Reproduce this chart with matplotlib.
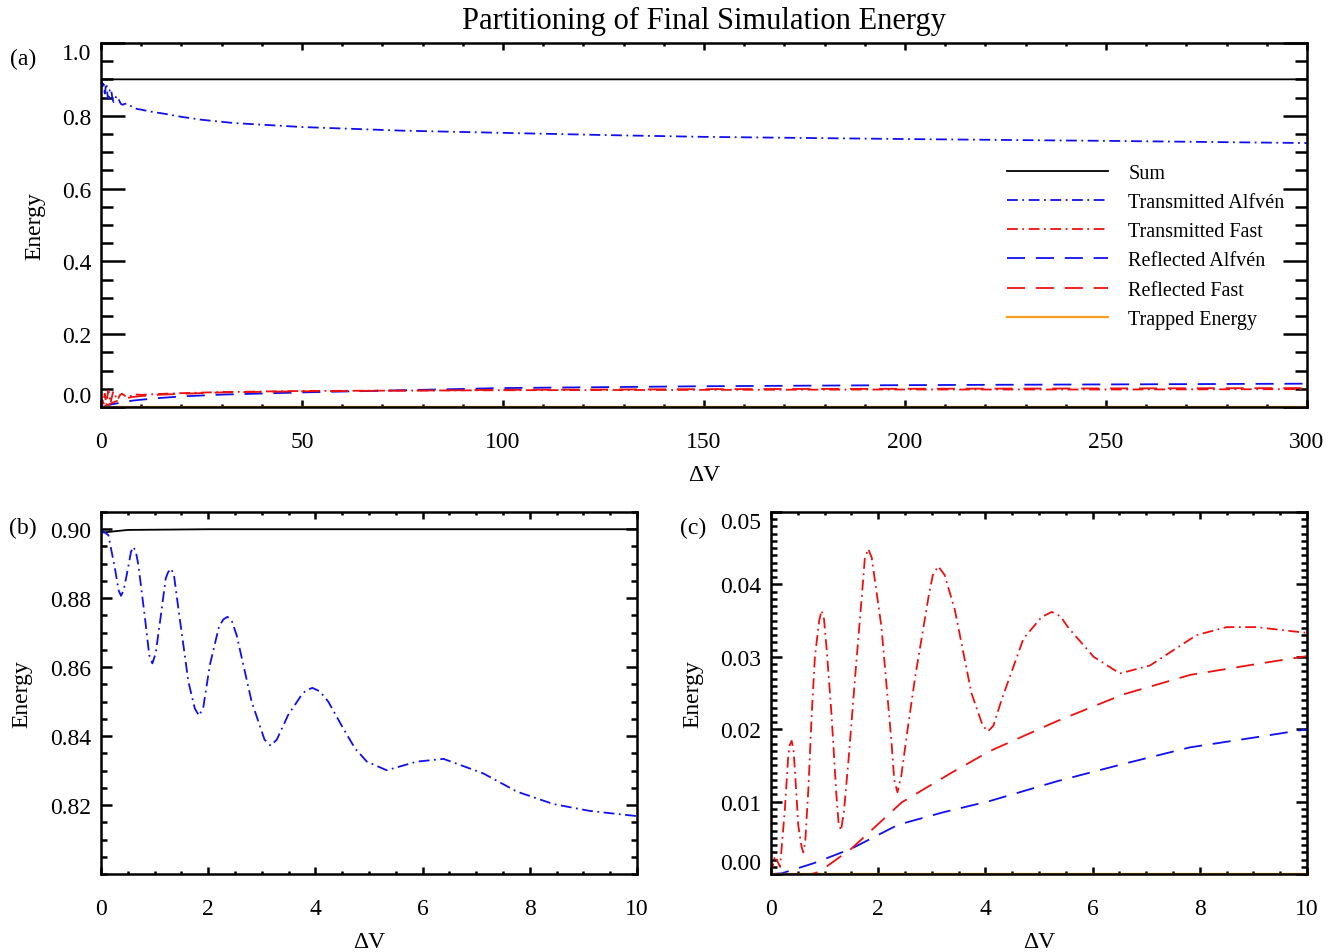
import numpy as np
import matplotlib
matplotlib.use('Agg')
import matplotlib.pyplot as plt
from matplotlib.ticker import MultipleLocator, FormatStrFormatter

plt.rcParams['font.family'] = ['Liberation Serif', 'DejaVu Serif']

# valori (Delta V, energie)
dv_sum = [0, 0.5, 2, 300]
e_sum = [0.899, 0.8998, 0.900, 0.900]

dv_ta = [0, 0.013, 0.137, 0.26, 0.33, 0.373, 0.42, 0.479, 0.56, 0.603, 0.65, 0.697, 0.821,
         0.90, 0.958, 1.02, 1.10, 1.207, 1.25, 1.306, 1.36, 1.443, 1.63, 1.75, 1.83, 1.91,
         2.03, 2.20, 2.28, 2.357, 2.44, 2.53, 2.81, 3.05, 3.166, 3.28, 3.49, 3.74, 3.82, 3.943,
         4.08, 4.24, 4.52, 4.74, 4.96, 5.33, 5.89, 6.39, 7.13, 7.76, 8.44, 9.12, 10, 12, 16,
         20, 25, 33, 50, 75, 100, 125, 150, 200, 250, 300]
e_ta = [0.900, 0.8997, 0.8983, 0.8886, 0.8822, 0.8807, 0.8822, 0.8867, 0.8935, 0.8949, 0.8935,
        0.8896, 0.8741, 0.8635, 0.8611, 0.8640, 0.8731, 0.8857, 0.8875, 0.8886, 0.8868, 0.877,
        0.8558, 0.8480, 0.8459, 0.8485, 0.8606, 0.8717, 0.8738, 0.8746, 0.8734, 0.8693, 0.850,
        0.8390, 0.8372, 0.8390, 0.8461, 0.8519, 0.8532, 0.854, 0.8530, 0.850, 0.8422, 0.8364,
        0.8326, 0.8301, 0.8326, 0.8334, 0.8292, 0.8239, 0.8203, 0.8183, 0.8168, 0.812, 0.805,
        0.797, 0.789, 0.780, 0.769, 0.759, 0.753, 0.747, 0.742, 0.736, 0.731, 0.725]

dv_tf = [0, 0.075, 0.17, 0.26, 0.32, 0.35, 0.386, 0.42, 0.45, 0.51, 0.57, 0.603, 0.64, 0.70,
         0.76, 0.82, 0.90, 0.945, 0.99, 1.04, 1.13, 1.22, 1.26, 1.306, 1.36, 1.45, 1.57, 1.70,
         1.75, 1.815, 1.88, 1.95, 2.06, 2.25, 2.30, 2.36, 2.43, 2.55, 2.69, 2.94, 3.02, 3.12,
         3.24, 3.43, 3.74, 3.95, 4.05, 4.15, 4.30, 4.71, 5.05, 5.24, 5.40, 5.55, 6.02, 6.51,
         7.07, 7.94, 8.5, 9.06, 10, 15, 20, 30, 50, 100, 150, 200, 250, 300]
e_tf = [0.0, 0.0025, 0.001, 0.009, 0.016, 0.0178, 0.0184, 0.0172, 0.014, 0.0067, 0.0038,
        0.003, 0.0045, 0.012, 0.022, 0.030, 0.0350, 0.0364, 0.0352, 0.031, 0.022, 0.011, 0.0072,
        0.006, 0.0085, 0.016, 0.0272, 0.0388, 0.0435, 0.0449, 0.0437, 0.040, 0.0342, 0.0181,
        0.0130, 0.0113, 0.0135, 0.020, 0.0272, 0.0383, 0.0413, 0.0425, 0.0413, 0.0365, 0.025,
        0.0205, 0.0197, 0.0205, 0.024, 0.0325, 0.0355, 0.0362, 0.0356, 0.034, 0.030, 0.0277,
        0.0288, 0.0330, 0.0341, 0.0341, 0.0333, 0.036, 0.038, 0.041, 0.044, 0.046, 0.047,
        0.048, 0.048, 0.049]

dv_ra = [0, 0.2, 0.8, 1.5, 2.37, 3.2, 4.09, 5.33, 6.57, 7.82, 9.06, 10, 15, 20, 30, 50, 100,
         150, 200, 250, 300]
e_ra = [0.0, 0.0001, 0.0015, 0.0035, 0.0068, 0.0085, 0.0101, 0.0128, 0.0152, 0.0175, 0.0189,
        0.0200, 0.025, 0.029, 0.034, 0.040, 0.052, 0.057, 0.060, 0.062, 0.064]

dv_rf = [0, 0.75, 0.9, 1.5, 2.44, 3.37, 4.09, 5.33, 6.57, 7.82, 9.06, 10, 15, 20, 30, 50, 100,
         150, 200, 250, 300]
e_rf = [0.0, 0.0, 0.0003, 0.0035, 0.0099, 0.0140, 0.0170, 0.0211, 0.0248, 0.0275, 0.0290,
        0.0301, 0.034, 0.036, 0.040, 0.043, 0.047, 0.049, 0.050, 0.051, 0.052]

dv_tr = [0, 10, 300]
e_tr = [0.0, 0.0, 0.0]

dashdot = (0, (6, 2.5, 1, 2.5))
dashed = (0, (10, 6))


def deseneaza(ax):
    ax.plot(dv_sum, e_sum, color='black', lw=1.3, label='Sum')
    ax.plot(dv_ta, e_ta, color='#1010ee', lw=1.3, ls=dashdot, label='Transmitted Alfvén')
    ax.plot(dv_tf, e_tf, color='#ee1010', lw=1.3, ls=dashdot, label='Transmitted Fast')
    ax.plot(dv_ra, e_ra, color='#1010ee', lw=1.3, ls=dashed, label='Reflected Alfvén')
    ax.plot(dv_rf, e_rf, color='#ee1010', lw=1.3, ls=dashed, label='Reflected Fast')
    ax.plot(dv_tr, e_tr, color='#f5a020', lw=1.6, label='Trapped Energy')


def stil(ax, ylen, xlen):
    for s in ax.spines.values():
        s.set_linewidth(1.8)
    ax.tick_params(which='both', direction='in', top=True, right=True, width=1.8,
                   labelsize=17, colors='black')
    ax.tick_params(axis='y', which='major', length=ylen, pad=7)
    ax.tick_params(axis='y', which='minor', length=ylen / 2)
    ax.tick_params(axis='x', which='major', length=xlen, pad=17)
    ax.tick_params(axis='x', which='minor', length=xlen / 2)
    ax.set_xlabel('ΔV', fontsize=17, labelpad=9)
    ax.set_ylabel('Energy', fontsize=17)


fig = plt.figure(figsize=(13.38, 9.53), dpi=100)

# panoul (a)
ax_a = fig.add_axes([0.0755, 0.5719, 0.9013, 0.382])
deseneaza(ax_a)
ax_a.set_xlim(0, 300)
ax_a.set_ylim(0, 1.0)
ax_a.set_xticks(np.arange(0, 301, 50))
ax_a.xaxis.set_minor_locator(MultipleLocator(10))
ax_a.set_yticks(np.arange(0, 1.01, 0.2))
ax_a.yaxis.set_minor_locator(MultipleLocator(0.05))
ax_a.yaxis.set_major_formatter(FormatStrFormatter('%.1f'))
stil(ax_a, 17, 5)
ax_a.yaxis.labelpad = 12
ax_a.legend(loc='upper left', bbox_to_anchor=(0.745, 0.69), frameon=False, fontsize=14.5,
            handlelength=5, handletextpad=1.0, labelspacing=0.5, borderaxespad=0)
yt = ax_a.yaxis.get_major_ticks()
yt[0].label1.set_va('bottom')
yt[-1].label1.set_va('top')

# panoul (b)
ax_b = fig.add_axes([0.0755, 0.0818, 0.4006, 0.3799])
deseneaza(ax_b)
ax_b.set_xlim(0, 10)
ax_b.set_ylim(0.80, 0.905)
ax_b.set_xticks(np.arange(0, 11, 2))
ax_b.xaxis.set_minor_locator(MultipleLocator(0.5))
ax_b.set_yticks([0.82, 0.84, 0.86, 0.88, 0.90])
ax_b.yaxis.set_minor_locator(MultipleLocator(0.005))
ax_b.yaxis.set_major_formatter(FormatStrFormatter('%.2f'))
stil(ax_b, 8, 5)
ax_b.yaxis.labelpad = 13

# panoul (c)
ax_c = fig.add_axes([0.5762, 0.0818, 0.4006, 0.3799])
deseneaza(ax_c)
ax_c.set_xlim(0, 10)
ax_c.set_ylim(0, 0.05)
ax_c.set_xticks(np.arange(0, 11, 2))
ax_c.xaxis.set_minor_locator(MultipleLocator(0.5))
ax_c.set_yticks(np.arange(0, 0.051, 0.01))
ax_c.yaxis.set_minor_locator(MultipleLocator(0.001))
ax_c.yaxis.set_major_formatter(FormatStrFormatter('%.2f'))
stil(ax_c, 8, 5)
ax_c.yaxis.labelpad = 12
yt = ax_c.yaxis.get_major_ticks()
yt[0].label1.set_va('bottom')
yt[-1].label1.set_va('top')

fig.text(0.526, 0.977, 'Partitioning of Final Simulation Energy', fontsize=22,
         ha='center', va='center')
fig.text(0.017, 0.938, '(a)', fontsize=17, ha='center', va='center')
fig.text(0.017, 0.446, '(b)', fontsize=17, ha='center', va='center')
fig.text(0.518, 0.446, '(c)', fontsize=17, ha='center', va='center')

fig.savefig('out.png', dpi=100)
